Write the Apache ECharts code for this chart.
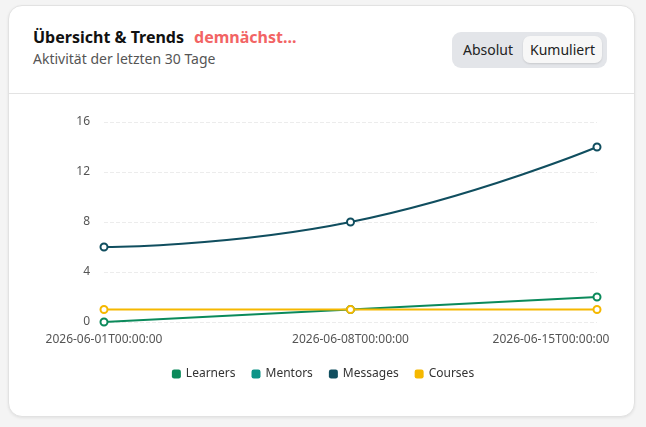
<!DOCTYPE html>
<html>
<head>
<meta charset="utf-8">
<script src="https://cdn.jsdelivr.net/npm/echarts@6/dist/echarts.min.js"></script>
<style>
  html, body { margin: 0; padding: 0; background: #f4f4f4; font-family: "Noto Sans", sans-serif; }
  .card {
    position: absolute; left: 8px; top: 5px; width: 625px; height: 410px;
    background: #fff; border: 1px solid #e2e2e2; border-radius: 14px;
    box-shadow: 0 1px 3px rgba(0,0,0,0.08);
  }
  .header { position: absolute; left: 0; top: 0; right: 0; height: 87px; border-bottom: 1px solid #e3e3e3; }
  .title { position: absolute; left: 24px; top: 20px; font-size: 16px; font-weight: 700; color: #111; white-space: nowrap; }
  .title .soon { color: #f26464; margin-left: 10px; }
  .sub { position: absolute; left: 24px; top: 43px; font-size: 14px; color: #555; }
  .toggle {
    position: absolute; left: 443px; top: 26px; width: 155px; height: 36px;
    background: #e3e5e9; border-radius: 9px;
  }
  .toggle span { position: absolute; top: 0; line-height: 36px; font-size: 14px; color: #222; }
  .toggle .off { left: 11px; }
  .toggle .on {
    left: 71px; top: 4px; width: 79px; height: 27px; line-height: 27px; text-align: center;
    background: #f7f7f7; border-radius: 7px; box-shadow: 0 1px 2px rgba(0,0,0,0.12);
  }
  #chart { position: absolute; left: 0; top: 0; width: 646px; height: 427px; }
</style>
</head>
<body>
<div class="card">
  <div class="header">
    <div class="title">Übersicht &amp; Trends<span class="soon">demnächst...</span></div>
    <div class="sub">Aktivität der letzten 30 Tage</div>
    <div class="toggle"><span class="off">Absolut</span><span class="on">Kumuliert</span></div>
  </div>
</div>
<div id="chart"></div>
<script>
var dates = ['2026-06-01T00:00:00', '2026-06-08T00:00:00', '2026-06-15T00:00:00']
var learners = [0, 1, 2]
var mentors = [null, null, null]
var messages = [6, 8, 14]
var courses = [1, 1, 1]
var yTicks = { min: 0, max: 16, interval: 4 }

var chart = echarts.init(document.getElementById('chart'))

function lineSeries(name, color, data) {
  return {
    name: name,
    type: 'line',
    smooth: true,
    symbol: 'emptyCircle',
    symbolSize: 7,
    itemStyle: { color: color, borderWidth: 2 },
    lineStyle: { color: color, width: 2 },
    data: data
  }
}

chart.setOption({
  textStyle: { fontFamily: 'Noto Sans' },
  legend: {
    bottom: 42,
    left: 'center',
    icon: 'roundRect',
    itemWidth: 9,
    itemHeight: 9,
    itemGap: 16,
    textStyle: { fontSize: 12, color: '#333' },
    data: ['Learners', 'Mentors', 'Messages', 'Courses']
  },
  grid: { left: 104, right: 49, top: 122, bottom: 105, outerBoundsMode: 'none' },
  xAxis: {
    type: 'category',
    boundaryGap: false,
    data: dates,
    axisLine: { show: false },
    axisTick: { show: false },
    axisLabel: {
      color: '#555',
      fontSize: 12,
      margin: 12,
      // last label is pulled back inside the card
      formatter: function(v, i) {
        return i === dates.length - 1 ? '{last|' + v + '}' : v
      },
      rich: {
        last: { color: '#555', fontSize: 12, padding: [0, 92, 0, 0] }
      }
    }
  },
  yAxis: {
    type: 'value',
    min: yTicks.min,
    max: yTicks.max,
    interval: yTicks.interval,
    axisLine: { show: false },
    axisTick: { show: false },
    axisLabel: { color: '#555', fontSize: 12, margin: 14 },
    splitLine: { lineStyle: { color: '#ececec', type: 'dashed' } }
  },
  series: [
    lineSeries('Learners', '#0b8a5b', learners),
    lineSeries('Mentors', '#0d9488', mentors),
    lineSeries('Messages', '#104e5f', messages),
    lineSeries('Courses', '#f5b800', courses)
  ]
})
</script>
</body>
</html>
